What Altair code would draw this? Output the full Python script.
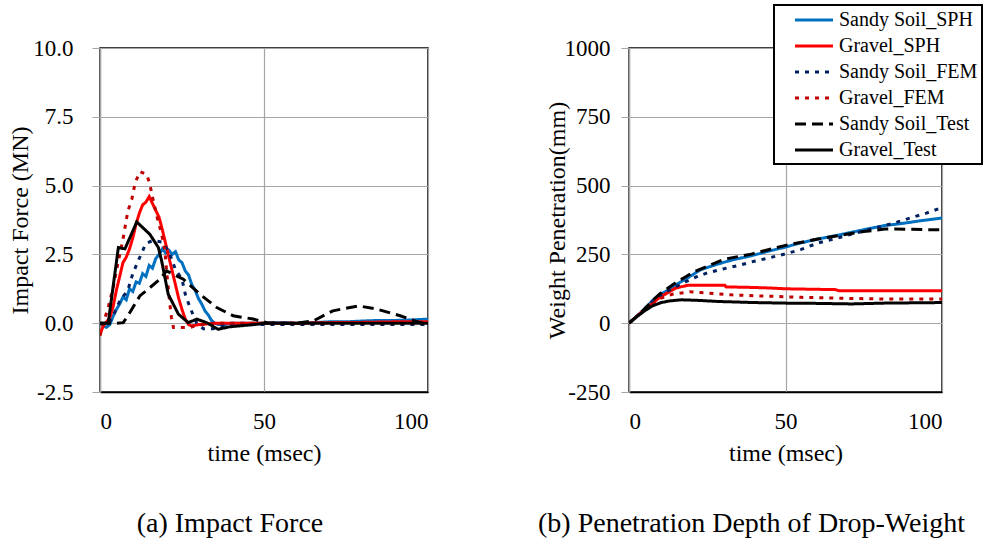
import altair as alt
import pandas as pd

SERIES = ["Sandy Soil_SPH", "Gravel_SPH", "Sandy Soil_FEM", "Gravel_FEM", "Sandy Soil_Test", "Gravel_Test"]
COLORS = ["#0070C0", "#FF0000", "#002060", "#C00000", "#000000", "#000000"]
DASHES = [[1, 0], [1, 0], [4, 6], [4, 6], [11, 6], [1, 0]]
WIDTHS = [3, 3, 4, 4, 3, 3]

# ---------- (a) Impact force (MN) vs time (msec) ----------
fa_sand_sph_t = [0, 1, 2, 3, 4, 5, 6, 7, 8, 9, 10, 11, 12, 13, 14, 15, 16, 17, 18, 19, 20, 21, 22, 23, 24, 25,
                 26, 27, 28, 29, 30, 31, 32, 33, 34, 35, 36, 38, 40, 45, 50, 55, 60, 65, 70, 75, 80, 85, 90, 95, 100]
fa_sand_sph_v = [0, -0.1, -0.15, -0.05, 0.25, 0.5, 0.7, 0.95, 0.85, 1.25, 1.15, 1.5, 1.45, 1.8, 1.7, 2.1, 2.0,
                 2.35, 2.5, 2.7, 2.55, 2.65, 2.5, 2.6, 2.3, 2.2, 1.9, 1.75, 1.4, 1.2, 0.9, 0.7, 0.45, 0.3, 0.1, 0.0,
                 -0.05, -0.05, 0, 0, 0, 0.02, 0, 0.02, 0.05, 0.05, 0.08, 0.1, 0.1, 0.12, 0.15]

fa_grav_sph_t = [0, 1, 2, 3, 4, 5, 6, 7, 8, 9, 10, 11, 12, 13, 14, 15, 16, 17, 18, 19, 20, 21, 22, 23, 24, 25,
                 26, 27, 28, 30, 35, 40, 50, 60, 70, 80, 90, 100]
fa_grav_sph_v = [-0.4, -0.1, 0.05, 0.2, 0.6, 1.2, 1.7, 2.2, 2.4, 2.7, 3.1, 3.6, 4.0, 4.3, 4.4, 4.6, 4.35, 4.1,
                 3.85, 3.4, 2.9, 2.4, 1.9, 1.4, 0.9, 0.5, 0.15, -0.05, -0.1, -0.05, 0.0, 0, 0, 0, 0.02, 0.03,
                 0.05, 0.05]

fa_sand_fem_t = [0, 2, 3, 4.5, 6, 8.5, 10, 12.5, 14, 16, 19, 21, 23, 25, 26, 27.5, 29.5, 31.5, 34.5, 37, 40, 50,
                 60, 70, 80, 90, 100]
fa_sand_fem_v = [0, -0.05, 0.05, 0.4, 0.8, 1.2, 1.8, 2.5, 2.9, 3.0, 2.95, 2.6, 1.95, 1.6, 1.05, 0.55, 0.0, -0.2,
                 -0.2, -0.1, -0.05, -0.05, -0.05, -0.05, -0.05, -0.05, -0.05]

fa_grav_fem_t = [0, 1, 2.5, 4, 5.5, 7, 8.5, 9.7, 10.7, 12.2, 14.2, 15.2, 15.8, 17.3, 18.8, 19.8, 20.3, 20.8,
                 21.3, 21.8, 22.4, 24.9, 27.4, 29.5, 35, 40, 50, 60, 70, 80, 90, 100]
fa_grav_fem_v = [-0.46, 0, 0.57, 1.29, 2.2, 3.05, 4.08, 4.5, 5.1, 5.51, 5.41, 5.05, 4.69, 3.9, 3.23, 2.63, 1.9,
                 1.29, 0.69, 0.2, -0.16, -0.16, -0.16, -0.07, 0, 0, 0, 0, 0, 0, 0, 0]

fa_sand_test_t = [0, 5, 7.1, 9.1, 12.2, 15.2, 18.3, 20.3, 25.4, 30.5, 35.6, 40.6, 46.7, 50.8, 55, 60, 65, 71,
                  78.8, 84.4, 91.5, 97.6, 100]
fa_sand_test_v = [0, 0, 0.02, 0.39, 1.0, 1.29, 1.6, 1.9, 1.6, 1.05, 0.57, 0.27, 0.15, 0.02, 0, 0, 0.08, 0.45,
                  0.63, 0.51, 0.27, 0.02, 0]

fa_grav_test_t = [0, 2.5, 5.6, 7.6, 11.2, 15.2, 17.8, 18.8, 20.8, 23.9, 26.9, 29.5, 32.5, 36, 39.6, 47.8, 50,
                  60, 70, 80, 90, 100]
fa_grav_test_v = [0, 0, 2.75, 2.7, 3.68, 3.23, 2.75, 2.26, 1.05, 0.33, 0.02, 0.15, 0.02, -0.22, -0.13, -0.04,
                  0, 0, 0, 0, 0, 0]

# ---------- (b) Weight penetration (mm) vs time (msec) ----------
fb_sand_sph_t = [0, 2.5, 5, 7.5, 10, 12.5, 15, 18.9, 23, 28.4, 33, 39.1, 44, 49.7, 55, 60.4, 66, 71, 76, 81.7,
                 87, 93, 100]
fb_sand_sph_v = [0, 25, 52, 82, 105, 120, 140, 166, 195, 215, 230, 245, 260, 276, 292, 306, 318, 330, 342, 355,
                 362, 372, 382]

fb_grav_sph_t = [0, 2.5, 5, 7.1, 10, 12.5, 15, 18.9, 30.6, 31, 39.1, 45, 50, 66, 67, 80, 100]
fb_grav_sph_v = [0, 25, 50, 69, 95, 112, 128, 138, 138, 132, 130, 128, 125, 122, 118, 118, 118]

fb_sand_fem_t = [0, 2.5, 5, 7.5, 10, 12.5, 15, 18, 21.5, 25, 30, 35, 40, 45, 50, 55, 60, 65, 70, 75, 80, 85, 90,
                 95, 100]
fb_sand_fem_v = [0, 25, 52, 80, 102, 118, 133, 150, 168, 183, 197, 210, 225, 238, 252, 268, 290, 305, 320, 335,
                 350, 365, 383, 400, 420]

fb_grav_fem_t = [0, 2.5, 5, 7.5, 10, 14.1, 19.4, 22.6, 32.7, 42.3, 55, 71, 81.7, 100]
fb_grav_fem_v = [0, 25, 48, 70, 90, 106, 114, 112, 103, 99, 94, 90, 88, 88]

fb_sand_test_t = [0, 2.5, 5, 7.5, 10, 12.5, 15, 18, 21, 24.2, 30.6, 39.1, 49.7, 60.4, 70, 75, 81.7, 85, 90, 95,
                  100]
fb_sand_test_v = [0, 25, 52, 82, 108, 128, 148, 168, 188, 203, 233, 251, 282, 306, 324, 333, 342, 342, 341, 340,
                  340]

fb_grav_test_t = [0, 2.5, 5, 7.5, 10.3, 13, 16.7, 22, 28.4, 40, 49.7, 60, 71, 81.7, 100]
fb_grav_test_v = [0, 24, 45, 63, 75, 81, 85, 83, 79, 75, 73, 72, 70, 73, 75]


def long_table(pairs):
    rows = []
    for name, (ts, vs) in zip(SERIES, pairs):
        for t, v in zip(ts, vs):
            rows.append({"series": name, "t": t, "v": v})
    return pd.DataFrame(rows)


df_a = long_table([(fa_sand_sph_t, fa_sand_sph_v), (fa_grav_sph_t, fa_grav_sph_v),
                   (fa_sand_fem_t, fa_sand_fem_v), (fa_grav_fem_t, fa_grav_fem_v),
                   (fa_sand_test_t, fa_sand_test_v), (fa_grav_test_t, fa_grav_test_v)])
df_b = long_table([(fb_sand_sph_t, fb_sand_sph_v), (fb_grav_sph_t, fb_grav_sph_v),
                   (fb_sand_fem_t, fb_sand_fem_v), (fb_grav_fem_t, fb_grav_fem_v),
                   (fb_sand_test_t, fb_sand_test_v), (fb_grav_test_t, fb_grav_test_v)])

FONT = "Liberation Serif"
GRID = "#a6a6a6"


def x_axis():
    return alt.Axis(values=[0, 50, 100], ticks=False, domainColor="black", domainWidth=1.5,
                    labelFont=FONT, labelFontSize=23, labelColor="black", labelPadding=18,
                    title="time (msec)", titleFont=FONT, titleFontSize=24, titleFontWeight="normal",
                    titleColor="black", titlePadding=8, gridColor=GRID, gridWidth=1.2)


def y_axis(values, fmt, title, lab_pad, title_pad):
    return alt.Axis(values=values, tickSize=8, tickColor=GRID, domainColor=GRID, domainWidth=1.5,
                    labelFont=FONT, labelFontSize=23, labelColor="black", labelPadding=lab_pad,
                    labelExpr=f"datum.value < 0 ? '-' + format(-datum.value, '{fmt}') : format(datum.value, '{fmt}')",
                    title=title, titleFont=FONT, titleFontSize=24, titleFontWeight="normal",
                    titleColor="black", titlePadding=title_pad, gridColor=GRID, gridWidth=1.2)


def panel(df, ydom, yvals, fmt, ytitle, lab_pad, title_pad, caption, width, with_legend):
    if with_legend:
        nb = "\u00a0" * 8
        leg = alt.Legend(title=None, orient="none", legendX=145, legendY=-43,
                         labelExpr=f"datum.label + '{nb}'")
    else:
        leg = None
    return alt.Chart(df).mark_line(strokeCap="butt", clip=True).encode(
        x=alt.X("t:Q", scale=alt.Scale(domain=[0, 100], nice=False), axis=x_axis()),
        y=alt.Y("v:Q", scale=alt.Scale(domain=ydom, nice=False),
                axis=y_axis(yvals, fmt, ytitle, lab_pad, title_pad)),
        color=alt.Color("series:N", scale=alt.Scale(domain=SERIES, range=COLORS), legend=leg),
        strokeDash=alt.StrokeDash("series:N", scale=alt.Scale(domain=SERIES, range=DASHES), legend=leg),
        strokeWidth=alt.StrokeWidth("series:N", scale=alt.Scale(domain=SERIES, range=WIDTHS), legend=None),
        order=alt.Order("t:Q"),
    ).properties(
        width=width, height=344,
        title=alt.Title(caption, orient="bottom", anchor="middle", frame="group", dx=-34, offset=45,
                        font=FONT, fontSize=28, fontWeight="normal", color="black"),
    )


left = panel(df_a, [-2.5, 10], [-2.5, 0, 2.5, 5, 7.5, 10], ".1f", "Impact Force (MN)", 19, 0,
             "(a) Impact Force", 328, False)
right = panel(df_b, [-250, 1000], [-250, 0, 250, 500, 750, 1000], "d", "Weight Penetration(mm)", 11, -5,
              "(b) Penetration Depth of Drop-Weight", 313, True)

chart = alt.hconcat(left, right, spacing=108).resolve_scale(
    color="independent", strokeDash="independent", strokeWidth="independent"
).properties(
    padding={"left": 8, "top": 3, "right": 0, "bottom": 0}
).configure_view(
    stroke="black", strokeWidth=1.5
).configure_legend(
    strokeColor="black", strokeWidth=2, fillColor="white", padding=4,
    labelFont=FONT, labelFontSize=20, labelColor="black",
    symbolType="M-2,0H2", symbolSize=361, symbolStrokeWidth=3,
    symbolOffset=25, labelOffset=14, rowPadding=5,
)

chart.save("out.html", embed_options={"renderer": "svg", "actions": False})
